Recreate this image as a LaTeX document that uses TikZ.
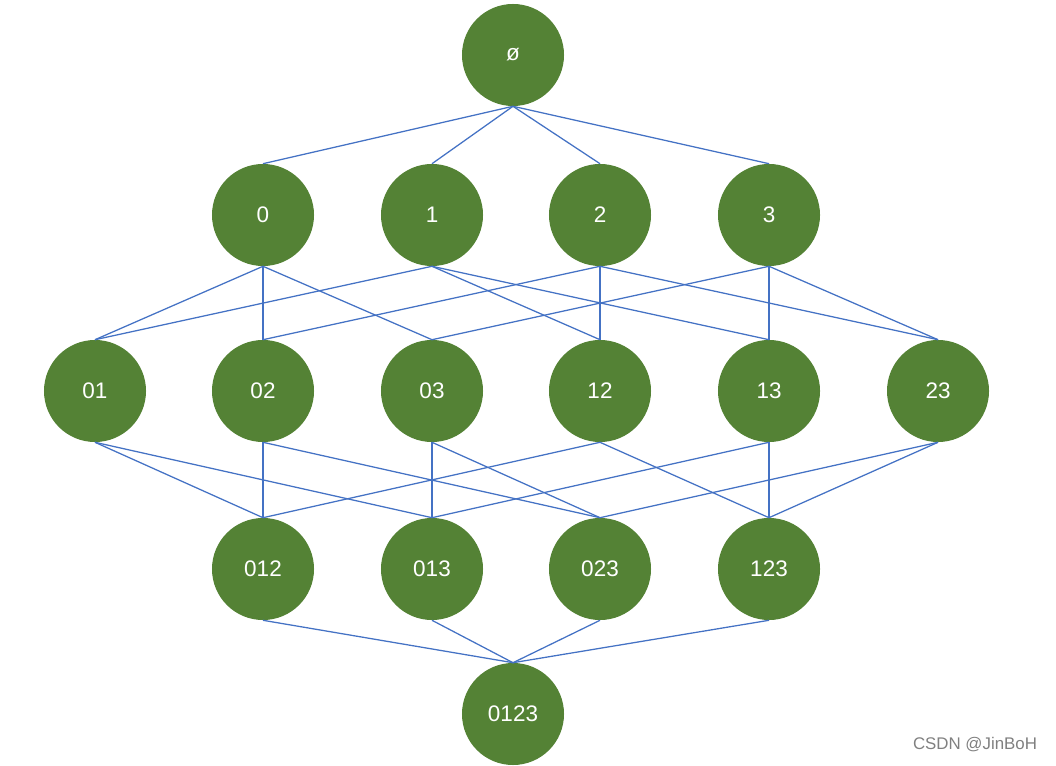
\documentclass[tikz,border=0pt]{standalone}
\usepackage{fontspec}
\setmainfont{Liberation Sans}
\definecolor{setgreen}{HTML}{548235}
\definecolor{edgeblue}{HTML}{4472C4}
\begin{document}
\begin{tikzpicture}[x=0.025cm, y=-0.025cm,
  set/.style={circle, fill=setgreen, text=white, minimum size=2.55cm, inner sep=0pt, font=\fontsize{16}{18}\selectfont},
  link/.style={edgeblue, line width=0.9pt}]
  \useasboundingbox (0,0) rectangle (1056,766);
  \node[set] (E) at (513,55) {ø};
  \node[set] (V0) at (263,215) {0};
  \node[set] (V1) at (432,215) {1};
  \node[set] (V2) at (600,215) {2};
  \node[set] (V3) at (769,215) {3};
  \node[set] (V01) at (95,391) {01};
  \node[set] (V02) at (263,391) {02};
  \node[set] (V03) at (432,391) {03};
  \node[set] (V12) at (600,391) {12};
  \node[set] (V13) at (769,391) {13};
  \node[set] (V23) at (938,391) {23};
  \node[set] (V012) at (263,569) {012};
  \node[set] (V013) at (432,569) {013};
  \node[set] (V023) at (600,569) {023};
  \node[set] (V123) at (769,569) {123};
  \node[set] (V0123) at (513,714) {0123};
  \node[text=gray, font=\fontsize{12}{14}\selectfont] (mark) at (975,745) {CSDN @JinBoH};

  \foreach \a/\b in {E/V0, E/V1, E/V2, E/V3,
    V0/V01, V0/V02, V0/V03, V1/V01, V1/V12, V1/V13,
    V2/V02, V2/V12, V2/V23, V3/V03, V3/V13, V3/V23,
    V01/V012, V01/V013, V02/V012, V02/V023, V03/V013, V03/V023,
    V12/V012, V12/V123, V13/V013, V13/V123, V23/V023, V23/V123,
    V012/V0123, V013/V0123, V023/V0123, V123/V0123}
    \draw[link] (\a.south) -- (\b.north);
\end{tikzpicture}
\end{document}
